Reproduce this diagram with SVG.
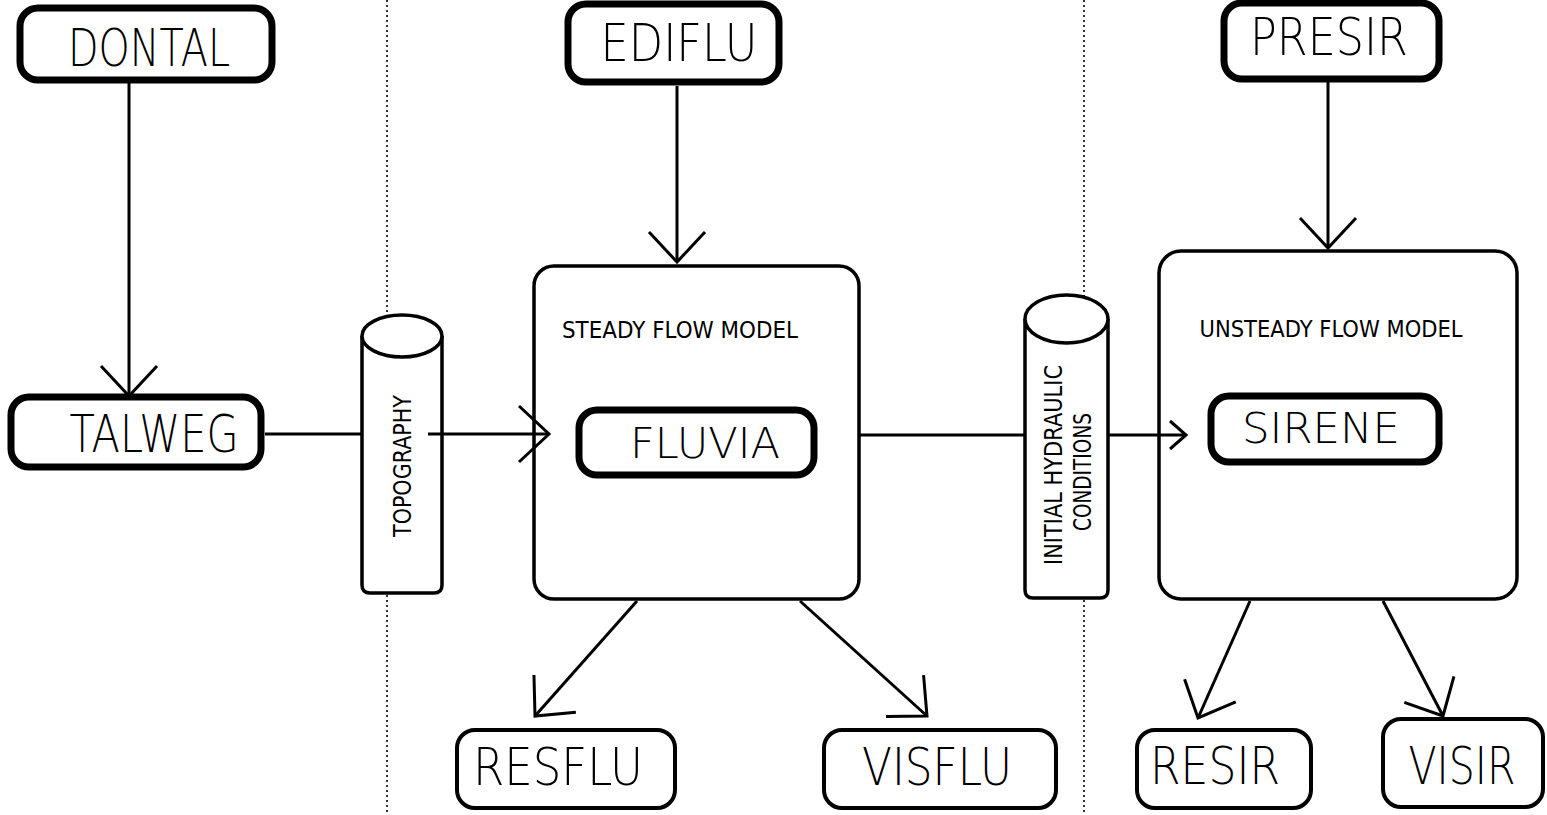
<svg xmlns="http://www.w3.org/2000/svg" width="1547" height="815" viewBox="0 0 1547 815">
<style>
.bg{fill:#fff}
.thick{fill:#fff;stroke:#000;stroke-width:7}
.mid{fill:#fff;stroke:#000;stroke-width:4}
.model{fill:#fff;stroke:#000;stroke-width:3.5}
.cyl{fill:#fff;stroke:#000;stroke-width:3.5}
.sep{stroke:#000;stroke-width:1.6;stroke-dasharray:2 3;fill:none}
.con{stroke:#000;stroke-width:3;fill:none}
text{font-family:"DejaVu Sans","Liberation Sans",sans-serif;font-weight:200;fill:#000}
.big{font-size:52px}
.med{font-size:42px}
.lab{font-size:23px;font-weight:400}
.side{font-size:25px;font-weight:400}
</style>
<defs>
<marker id="ah" markerUnits="userSpaceOnUse" viewBox="-40 -35 50 70" markerWidth="50" markerHeight="70" refX="0" refY="0" orient="auto" overflow="visible">
<path d="M-30,-28 L0,0 L-30,28" fill="none" stroke="#000" stroke-width="3"/>
</marker>
<marker id="ahs" markerUnits="userSpaceOnUse" viewBox="-30 -20 40 40" markerWidth="40" markerHeight="40" refX="0" refY="0" orient="auto" overflow="visible">
<path d="M-16,-14 L0,0 L-16,14" fill="none" stroke="#000" stroke-width="3"/>
</marker>
</defs>
<rect class="bg" x="0" y="0" width="1547" height="815"/>
<g id="separators">
<line class="sep" x1="387" y1="0" x2="387" y2="815"/>
<line class="sep" x1="1084" y1="0" x2="1084" y2="815"/>
</g>
<g id="connectors">
<path class="con" d="M129 83 V396" marker-end="url(#ah)"/>
<path class="con" d="M677 86 V262" marker-end="url(#ah)"/>
<path class="con" d="M1328 82 V248" marker-end="url(#ah)"/>
<path class="con" d="M265 434 H362"/>
<path class="con" d="M860 435 H1025"/>
<path class="con" d="M637 601 L535 716" marker-end="url(#ah)"/>
<path class="con" d="M800 601 L927 716" marker-end="url(#ah)"/>
<path class="con" d="M1250 601 L1198 718" marker-end="url(#ah)"/>
<path class="con" d="M1383 601 L1443 716" marker-end="url(#ah)"/>
</g>
<g id="dontal"><rect class="thick" x="20" y="8" width="252" height="72" rx="18"/><text class="big" x="149" y="66" text-anchor="middle" textLength="162" lengthAdjust="spacingAndGlyphs">DONTAL</text></g>
<g id="ediflu"><rect class="thick" x="568" y="4" width="211" height="78" rx="18"/><text class="big" x="679" y="61" text-anchor="middle" textLength="157" lengthAdjust="spacingAndGlyphs">EDIFLU</text></g>
<g id="presir"><rect class="thick" x="1224" y="3" width="215" height="76" rx="18"/><text class="big" x="1329" y="55" text-anchor="middle" textLength="158" lengthAdjust="spacingAndGlyphs">PRESIR</text></g>
<g id="talweg"><rect class="thick" x="11" y="397" width="250" height="70" rx="18"/><text class="big" x="154" y="452" text-anchor="middle" textLength="169" lengthAdjust="spacingAndGlyphs">TALWEG</text></g>
<g id="topography">
<path class="cyl" d="M362 336 V585 Q362 593 370 593 H434 Q442 593 442 585 V336"/>
<ellipse class="cyl" cx="402" cy="336" rx="40" ry="21"/>
<text class="side" transform="translate(411,466) rotate(-90)" text-anchor="middle" textLength="142" lengthAdjust="spacingAndGlyphs">TOPOGRAPHY</text>
</g>
<g id="steady">
<rect class="model" x="534" y="266" width="325" height="333" rx="20"/>
<text class="lab" x="680" y="338" text-anchor="middle" textLength="236" lengthAdjust="spacingAndGlyphs">STEADY FLOW MODEL</text>
</g>
<g id="fluvia"><rect class="thick" x="579" y="410" width="235" height="65" rx="18" stroke-width="8"/><text class="med" x="705" y="458" text-anchor="middle" textLength="150" lengthAdjust="spacingAndGlyphs">FLUVIA</text></g>
<g id="hydraulic">
<path class="cyl" d="M1025 319 V590 Q1025 598 1033 598 H1100 Q1108 598 1108 590 V319"/>
<ellipse class="cyl" cx="1066.5" cy="319" rx="41.5" ry="24"/>
<text class="side" transform="translate(1062,465) rotate(-90)" text-anchor="middle" textLength="200" lengthAdjust="spacingAndGlyphs">INITIAL HYDRAULIC</text>
<text class="side" transform="translate(1091,472) rotate(-90)" text-anchor="middle" textLength="118" lengthAdjust="spacingAndGlyphs">CONDITIONS</text>
</g>
<g id="unsteady">
<rect class="model" x="1159" y="251" width="358" height="348" rx="22"/>
<text class="lab" x="1331" y="337" text-anchor="middle" textLength="263" lengthAdjust="spacingAndGlyphs">UNSTEADY FLOW MODEL</text>
</g>
<g id="sirene"><rect class="thick" x="1211" y="396" width="228" height="66" rx="18"/><text class="med" x="1321" y="443" text-anchor="middle" textLength="158" lengthAdjust="spacingAndGlyphs">SIRENE</text></g>
<g id="connectors-front">
<path class="con" d="M428 434 H549" marker-end="url(#ah)"/>
<path class="con" d="M1108 435 H1186" marker-end="url(#ahs)"/>
</g>
<g id="resflu"><rect class="mid" x="457" y="730" width="218" height="78" rx="18"/><text class="big" x="558" y="785" text-anchor="middle" textLength="170" lengthAdjust="spacingAndGlyphs">RESFLU</text></g>
<g id="visflu"><rect class="mid" x="824" y="730" width="232" height="78" rx="18"/><text class="big" x="937" y="785" text-anchor="middle" textLength="150" lengthAdjust="spacingAndGlyphs">VISFLU</text></g>
<g id="resir"><rect class="mid" x="1137" y="730" width="174" height="78" rx="18"/><text class="big" x="1215" y="784" text-anchor="middle" textLength="130" lengthAdjust="spacingAndGlyphs">RESIR</text></g>
<g id="visir"><rect class="mid" x="1383" y="719" width="160" height="88" rx="18"/><text class="big" x="1462" y="784" text-anchor="middle" textLength="107" lengthAdjust="spacingAndGlyphs">VISIR</text></g>
</svg>
